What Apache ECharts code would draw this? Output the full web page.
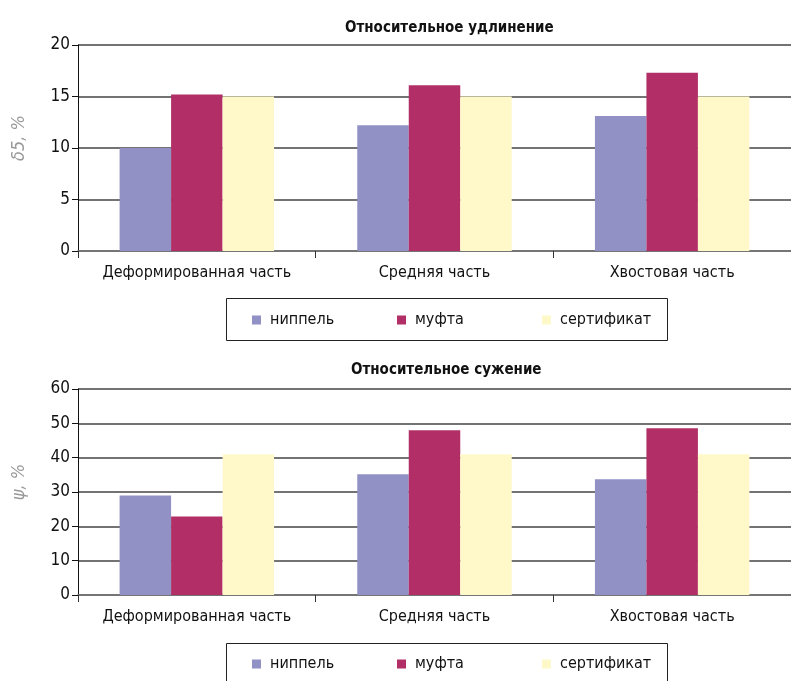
<!DOCTYPE html>
<html>
<head>
<meta charset="utf-8">
<script src="https://cdn.jsdelivr.net/npm/echarts@6/dist/echarts.min.js"></script>
<style>
  html, body { margin: 0; padding: 0; background: #fff; }
  #chart { width: 791px; height: 681px; }
</style>
</head>
<body>
<div id="chart"></div>
<script>
// Parts of the pipe sample
const categories = ['Деформированная часть', 'Средняя часть', 'Хвостовая часть'];
const seriesNames = ['ниппель', 'муфта', 'сертификат'];

// Relative elongation δ5, %
const elongNipple = [10.0, 12.2, 13.1];
const elongCoupling = [15.2, 16.1, 17.3];
const elongCertificate = [15.0, 15.0, 15.0];

// Relative reduction of area ψ, %
const reductNipple = [29.0, 35.2, 33.7];
const reductCoupling = [22.9, 48.0, 48.6];
const reductCertificate = [41.0, 41.0, 41.0];

const titles = ['Относительное удлинение', 'Относительное сужение'];
const yNames = ['δ5, %', 'ψ, %'];
const yMax = [20, 60];
const yStep = [5, 10];

const colors = ['#9191C6', '#B12F66', '#FFF9CA'];
const FONT = '"DejaVu Sans Condensed", "Liberation Sans Narrow", "Liberation Sans", sans-serif';

const chart = echarts.init(document.getElementById('chart'), null, { renderer: 'canvas' });

const grids = [
  { left: 78, top: 45, width: 719, height: 206 },
  { left: 78, top: 389, width: 719, height: 206 }
];

function xAxis(i) {
  return {
    type: 'category', gridIndex: i, data: categories,
    axisLine: { show: true, lineStyle: { color: '#777', width: 1.5 } },
    axisTick: { show: true, length: 7, lineStyle: { color: '#333' } },
    axisLabel: { color: '#111', fontFamily: FONT, fontSize: 16, margin: 14, interval: 0 }
  };
}
function yAxis(i) {
  return {
    type: 'value', gridIndex: i, min: 0, max: yMax[i], interval: yStep[i],
    name: yNames[i], nameLocation: 'middle', nameGap: 50, nameRotate: 90,
    nameTextStyle: { color: '#999', fontStyle: 'italic', fontFamily: FONT, fontSize: 18, padding: [0, 0, 0, 20] },
    axisLine: { show: true, lineStyle: { color: '#111', width: 1 } },
    axisTick: { show: true, length: 6, lineStyle: { color: '#111' } },
    axisLabel: { color: '#111', fontFamily: FONT, fontSize: 17, margin: 8 },
    splitLine: { show: true, lineStyle: { color: '#444', width: 1.5 } }
  };
}
function bars(i, data) {
  return data.map((d, k) => ({
    type: 'bar', name: seriesNames[k], xAxisIndex: i, yAxisIndex: i,
    data: d, barGap: '0%', barCategoryGap: '35%',
    itemStyle: { color: colors[k] }, silent: true
  }));
}

// one legend entry per item so the three entries sit at fixed positions
function legends(top) {
  const lefts = [252, 397, 542];
  return seriesNames.map((n, k) => ({
    data: [n], left: lefts[k], top: top, icon: 'rect', padding: 0,
    itemWidth: 9, itemHeight: 9, selectedMode: false,
    textStyle: { color: '#111', fontFamily: FONT, fontSize: 16, padding: [0, 0, 0, 4] }
  }));
}

const titleStyle = { fontFamily: FONT, fontSize: 15, fontWeight: 'bold', color: '#111' };

chart.setOption({
  backgroundColor: '#fff',
  animation: false,
  title: [
    { text: titles[0], left: 345, top: 21, padding: 0, textStyle: titleStyle },
    { text: titles[1], left: 351, top: 363, padding: 0, textStyle: titleStyle }
  ],
  grid: grids,
  xAxis: [xAxis(0), xAxis(1)],
  yAxis: [yAxis(0), yAxis(1)],
  legend: legends(312).concat(legends(656)),
  graphic: [
    { type: 'rect', shape: { x: 226.5, y: 298.5, width: 441, height: 42 }, style: { fill: 'none', stroke: '#222', lineWidth: 1 } },
    { type: 'rect', shape: { x: 226.5, y: 643.5, width: 441, height: 45 }, style: { fill: 'none', stroke: '#222', lineWidth: 1 } }
  ],
  series: bars(0, [elongNipple, elongCoupling, elongCertificate])
    .concat(bars(1, [reductNipple, reductCoupling, reductCertificate]))
});
</script>
</body>
</html>
